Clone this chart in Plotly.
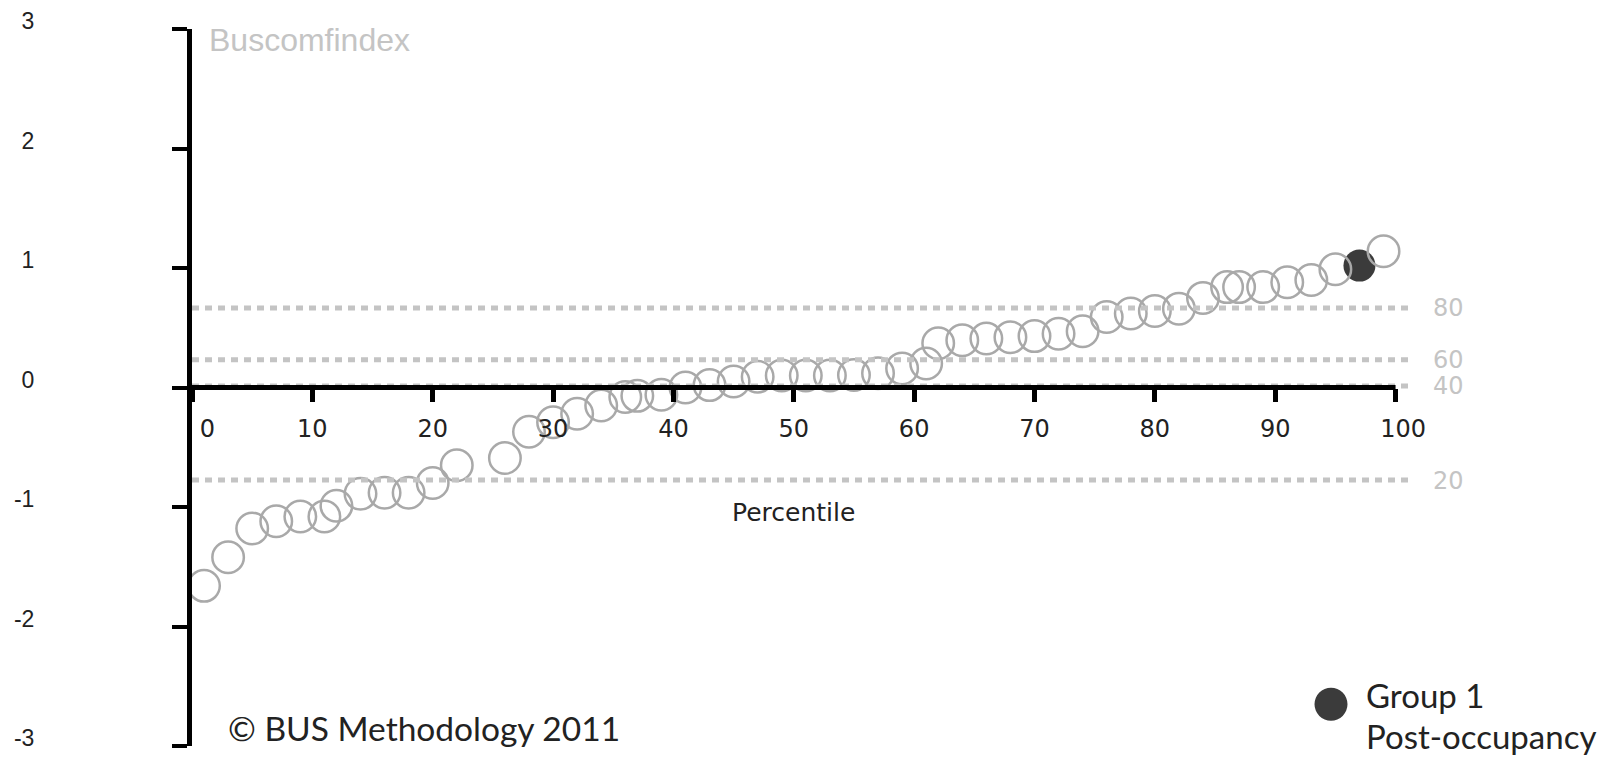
import plotly.graph_objects as go

# ---- data ----
percentile = [1, 3, 5, 7, 9, 11, 12, 14, 16, 18, 20, 22, 26, 28, 30, 32, 34, 36, 37, 39,
              41, 43, 45, 47, 49, 51, 53, 55, 57, 59, 61, 62, 64, 66, 68, 70, 72, 74, 76,
              78, 80, 82, 84, 86, 87, 89, 91, 93, 95, 99]
index_value = [-1.66, -1.42, -1.18, -1.12, -1.08, -1.08, -0.99, -0.89, -0.88, -0.88, -0.80,
               -0.65, -0.59, -0.37, -0.29, -0.22, -0.15, -0.08, -0.07, -0.06,
               0.00, 0.02, 0.05, 0.09, 0.10, 0.10, 0.10, 0.105, 0.12, 0.16, 0.20, 0.37,
               0.395, 0.41, 0.42, 0.43, 0.45, 0.47, 0.59, 0.62, 0.64, 0.66, 0.75, 0.84,
               0.84, 0.84, 0.88, 0.90, 0.99, 1.14]
group_percentile = [97]
group_value = [1.02]
group_name = ["Group 1", "Post-occupancy"]

band_labels = ["80", "60", "40", "20"]
band_values = [0.665, 0.232, 0.012, -0.775]

x_tick_vals = [0, 10, 20, 30, 40, 50, 60, 70, 80, 90, 100]
x_tick_text = ["\u2007\u20070", "10", "20", "30", "40", "50", "60", "70", "80", "90", "\u2007100"]
y_tick_vals = [-3, -2, -1, 0, 1, 2, 3]
y_tick_text = ["-3", "-2", "-1", "0", "1", "2", "3"]

x_max = 101.2
band_color = "#c4c4c4"
ring_color = "#a9a9a9"

fig = go.Figure()

# highlighted group (drawn beneath the open rings)
fig.add_trace(go.Scatter(
    x=group_percentile, y=group_value, mode="markers",
    marker=dict(symbol="circle", size=32, color="#3b3b3b", line=dict(width=0)),
    name=" ".join(group_name), showlegend=False, cliponaxis=False))

# all buildings
fig.add_trace(go.Scatter(
    x=percentile, y=index_value, mode="markers",
    marker=dict(symbol="circle-open", size=31.5, color=ring_color, line=dict(width=2.5)),
    showlegend=False, cliponaxis=False))

# band lines (on overlaid y2 so the right-hand labels come from that axis)
for v, lab in zip(band_values, band_labels):
    fig.add_trace(go.Scatter(
        x=[0, x_max], y=[v, v], mode="lines", yaxis="y2", xaxis="x",
        line=dict(color=band_color, width=5, dash="7px,6px"),
        hoverinfo="skip", showlegend=False))

# x axis line at y = 0, from first to last tick
fig.add_trace(go.Scatter(
    x=[x_tick_vals[0], x_tick_vals[-1]], y=[0, 0], mode="lines", yaxis="y2",
    line=dict(color="black", width=5), hoverinfo="skip", showlegend=False))

L, R, T, B = 192, 202, 29, 8
PW, PH = 1612 - L - R, 759 - T - B
fig.update_layout(
    width=1612, height=759,
    margin=dict(l=L, r=R, t=T, b=B, pad=0),
    paper_bgcolor="white", plot_bgcolor="white",
    showlegend=False,
    xaxis=dict(
        range=[0, x_max], anchor="free", position=0.5,
        showline=False, showgrid=False, zeroline=False,
        ticks="outside", ticklen=13, tickwidth=5, tickcolor="black",
        tickvals=x_tick_vals, ticktext=x_tick_text,
        tickfont=dict(family="DejaVu Sans", size=24, color="#222222"),
        ticklabelstandoff=7,
    ),
    yaxis=dict(
        range=[-3, 3], domain=[0, 1],
        showline=True, linewidth=5, linecolor="black",
        showgrid=False, zeroline=False,
        ticks="outside", ticklen=15, tickwidth=4, tickcolor="black",
        tickvals=y_tick_vals, ticktext=y_tick_text,
        tickfont=dict(family="Liberation Sans", size=23, color="#222222"),
        ticklabelstandoff=133, ticklabelshift=-8,
    ),
    yaxis2=dict(
        range=[-3, 3], overlaying="y", side="right", anchor="x",
        showline=False, showgrid=False, zeroline=False, ticks="",
        tickvals=band_values, ticktext=band_labels,
        tickfont=dict(family="DejaVu Sans", size=24, color=band_color),
        ticklabelstandoff=22,
    ),
    shapes=[
        dict(type="circle", xref="paper", yref="paper",
             xsizemode="pixel", ysizemode="pixel",
             xanchor=(1331 - L) / PW, yanchor=(759 - B - 709) / PH,
             x0=-16.5, x1=16.5, y0=-16.5, y1=16.5,
             fillcolor="#3b3b3b", line=dict(width=0)),
    ],
    annotations=[
        dict(text="Buscomfindex", xref="paper", yref="paper", x=0, y=1,
             xanchor="left", yanchor="middle", xshift=15, yshift=-11, showarrow=False,
             font=dict(family="Liberation Sans", size=32, color="#c4c4c4")),
        dict(text="Percentile", xref="x", yref="y", x=50, y=-1.05,
             xanchor="center", yanchor="middle", showarrow=False,
             font=dict(family="DejaVu Sans", size=25, color="#222222")),
        dict(text="\u00a9 BUS Methodology 2011", xref="paper", yref="paper",
             x=(226 - L) / PW, y=(759 - B - 733) / PH,
             xanchor="left", yanchor="middle", showarrow=False,
             font=dict(family="Lato", size=33.5, color="#222222")),
        dict(text=group_name[0], xref="paper", yref="paper",
             x=(1364 - L) / PW, y=(759 - B - 700) / PH,
             xanchor="left", yanchor="middle", showarrow=False,
             font=dict(family="Lato", size=33, color="#222222")),
        dict(text=group_name[1], xref="paper", yref="paper",
             x=(1364 - L) / PW, y=(759 - B - 741) / PH,
             xanchor="left", yanchor="middle", showarrow=False,
             font=dict(family="Lato", size=33, color="#222222")),
    ],
)

fig.write_html("out.html", config={"displayModeBar": False},
               post_script="document.body.style.margin='0px';")
